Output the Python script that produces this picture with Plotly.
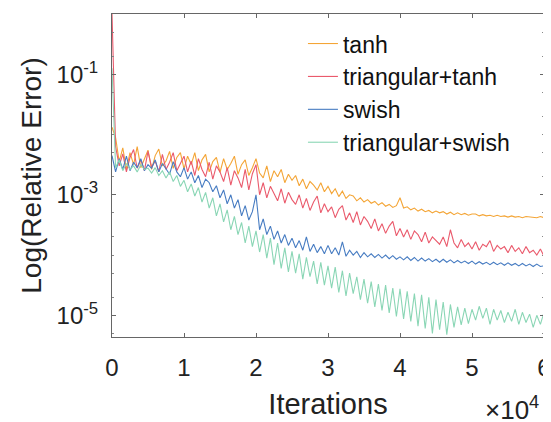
import plotly.graph_objects as go

iterations = list(range(0, 60001, 500))

tanh_log10 = [
    -1.88, -2.05, -2.45, -2.22, -2.58, -2.30, -2.50, -2.20, -2.55, -2.40, -2.26,
    -2.58, -2.35, -2.24, -2.52, -2.44, -2.28, -2.56, -2.38, -2.30, -2.57,
    -2.36, -2.50, -2.30, -2.60, -2.42, -2.33, -2.62, -2.45, -2.38, -2.63,
    -2.40, -2.58, -2.48, -2.36, -2.66, -2.50, -2.42, -2.68, -2.55, -2.40,
    -2.64, -2.72, -2.52, -2.78, -2.60, -2.70, -2.58, -2.80, -2.66, -2.76,
    -2.68, -2.85, -2.74, -2.90, -2.78, -2.84, -2.92, -2.80, -2.95, -2.86,
    -2.98, -2.90, -3.03, -2.94, -3.06, -3.00, -3.02, -3.10, -3.05, -3.12,
    -3.08, -3.14, -3.11, -3.17, -3.13, -3.19, -3.16, -3.21, -3.18, -3.05,
    -3.22, -3.20, -3.25, -3.22, -3.27, -3.24, -3.28, -3.26, -3.30, -3.27,
    -3.30, -3.28, -3.32, -3.29, -3.33, -3.30, -3.33, -3.31, -3.34, -3.32,
    -3.32, -3.35, -3.33, -3.35, -3.34, -3.36, -3.34, -3.36, -3.35, -3.37,
    -3.35, -3.37, -3.36, -3.38, -3.36, -3.37, -3.37, -3.38, -3.36, -3.38,
]

tri_tanh_log10 = [
    0.00, -2.20, -2.52, -2.32, -2.62, -2.38, -2.25, -2.56, -2.42, -2.60, -2.28,
    -2.54, -2.44, -2.62, -2.33, -2.58, -2.46, -2.30, -2.60, -2.48, -2.36,
    -2.62, -2.44, -2.68, -2.40, -2.58, -2.70, -2.46, -2.74, -2.52, -2.62,
    -2.78, -2.55, -2.84, -2.60, -2.72, -2.88, -2.58, -2.92, -2.65, -2.50,
    -3.00, -2.80, -3.05, -2.86, -2.98, -3.10, -2.90, -3.14, -2.96, -3.08,
    -3.16, -3.00, -3.22, -3.06, -3.26, -3.12, -3.02, -3.30, -3.15, -3.28,
    -3.20, -3.38, -3.24, -3.18, -3.42, -3.30, -3.46, -3.28, -3.50, -3.36,
    -3.44, -3.56, -3.40, -3.60, -3.48, -3.64, -3.52, -3.44, -3.68, -3.56,
    -3.70, -3.58, -3.74, -3.60, -3.66, -3.78, -3.62, -3.80, -3.70, -3.76,
    -3.82, -3.70, -3.86, -3.58, -3.80, -3.88, -3.74, -3.86, -3.80, -3.90,
    -3.78, -3.92, -3.82, -3.86, -3.76, -3.94, -3.84, -3.90, -3.86, -3.96,
    -3.84, -3.94, -3.88, -3.98, -3.86, -3.96, -3.92, -4.00, -3.90, -4.02,
]

swish_log10 = [
    -2.35, -2.62, -2.40, -2.58, -2.36, -2.60, -2.46, -2.55, -2.40, -2.60, -2.50,
    -2.56, -2.42, -2.62, -2.48, -2.58, -2.66, -2.45, -2.62, -2.70, -2.55,
    -2.74, -2.62, -2.80, -2.68, -2.88, -2.74, -2.80, -2.95, -2.85, -3.05,
    -2.92, -3.15, -3.00, -3.22, -3.08, -3.35, -3.18, -3.42, -3.28, -3.00,
    -3.58, -3.40, -3.66, -3.52, -3.74, -3.60, -3.80, -3.66, -3.84, -3.72,
    -3.88, -3.76, -3.92, -3.70, -3.94, -3.82, -3.96, -3.86, -3.98, -3.84,
    -3.98, -3.88, -4.00, -3.78, -4.02, -3.92, -4.00, -3.94, -4.04, -3.96,
    -4.03, -3.98, -4.04, -3.99, -4.05, -4.00, -4.06, -4.01, -4.07, -4.03,
    -4.08, -4.03, -4.09, -4.04, -4.10, -4.05, -4.10, -4.06, -4.11, -4.07,
    -4.12, -4.07, -4.12, -4.08, -4.13, -4.09, -4.13, -4.10, -4.14, -4.10,
    -4.15, -4.11, -4.15, -4.12, -4.16, -4.12, -4.16, -4.13, -4.17, -4.13,
    -4.17, -4.14, -4.18, -4.14, -4.18, -4.15, -4.19, -4.15, -4.19, -4.18,
]

tri_swish_log10 = [
    -0.90, -2.55, -2.42, -2.60, -2.48, -2.58, -2.52, -2.62, -2.50, -2.58, -2.56,
    -2.64, -2.55, -2.68, -2.60, -2.72, -2.62, -2.78, -2.68, -2.86, -2.76,
    -2.95, -2.82, -3.02, -2.88, -3.12, -2.96, -3.22, -3.05, -3.35, -3.15,
    -3.45, -3.25, -3.58, -3.36, -3.66, -3.46, -3.80, -3.52, -3.86, -3.60,
    -3.95, -3.66, -4.05, -3.72, -4.16, -3.80, -4.22, -3.88, -4.28, -3.94,
    -4.30, -3.98, -4.40, -4.04, -4.36, -4.10, -4.48, -4.12, -4.50, -4.18,
    -4.55, -4.20, -4.62, -4.26, -4.68, -4.30, -4.64, -4.36, -4.74, -4.40,
    -4.80, -4.44, -4.86, -4.48, -4.92, -4.50, -4.96, -4.55, -5.02, -4.56,
    -5.06, -4.60, -5.10, -4.64, -5.18, -4.66, -5.22, -4.70, -5.30, -4.74,
    -5.24, -4.78, -5.32, -4.82, -5.20, -4.86, -5.16, -4.88, -5.14, -4.90,
    -5.08, -4.85, -5.05, -4.88, -5.15, -4.90, -5.08, -4.92, -5.12, -4.95,
    -5.10, -4.90, -5.15, -4.95, -5.12, -4.98, -5.20, -5.00, -5.15, -4.95,
]

series_names = ["tanh", "triangular+tanh", "swish", "triangular+swish"]
series_logs = [tanh_log10, tri_tanh_log10, swish_log10, tri_swish_log10]
series_colors = ["#F4A536", "#EA5A6C", "#477CC2", "#8AD6B5"]

x_tick_vals = [0, 10000, 20000, 30000, 40000, 50000, 60000]
x_tick_text = ["0", "1", "2", "3", "4", "5", "6"]
y_tick_vals = [1e-5, 1e-3, 1e-1]
y_tick_text = ["10<sup>-5</sup>", "10<sup>-3</sup>", "10<sup>-1</sup>"]

fig = go.Figure()
for name, logs, color in zip(series_names, series_logs, series_colors):
    fig.add_trace(go.Scatter(
        x=iterations, y=[10 ** v for v in logs], mode="lines", name=name,
        line=dict(color=color, width=1.1),
    ))

# The page body has an 8px default margin, so the figure is sized to fit.
font_family = "Liberation Sans, Arial, sans-serif"
fig.update_layout(
    width=543, height=414,
    margin=dict(l=104, r=7, t=6, b=85, autoexpand=False),
    paper_bgcolor="white", plot_bgcolor="white",
    font=dict(family=font_family, color="#222222"),
    showlegend=True,
    legend=dict(x=0.442, y=0.975, xanchor="left", yanchor="top",
                bgcolor="rgba(0,0,0,0)", font=dict(size=23, color="#111111"),
                tracegroupgap=0),
    xaxis=dict(range=[0, 60000], tickvals=x_tick_vals, ticktext=x_tick_text,
               automargin=False,
               showgrid=False, zeroline=False, showline=True, mirror="ticks",
               linecolor="#666666", linewidth=1, ticks="inside", ticklen=4,
               tickcolor="#666666", tickfont=dict(size=24),
               ticklabelstandoff=9, ticklabeloverflow="allow",
               title=dict(text="Iterations", font=dict(size=29), standoff=13)),
    yaxis=dict(type="log", range=[-5.36, 0.0], tickvals=y_tick_vals,
               ticktext=y_tick_text, showgrid=False, zeroline=False,
               automargin=False,
               showline=True, mirror="ticks", linecolor="#666666", linewidth=1,
               ticks="inside", ticklen=4, tickcolor="#666666",
               tickfont=dict(size=24), ticklabelstandoff=8,
               ticklabeloverflow="allow",
               minor=dict(ticks="inside", ticklen=2, tickcolor="#888888", showgrid=False),
               title=dict(text="Log(Relative Error)", font=dict(size=28), standoff=6)),
    annotations=[dict(text="\u00d710<sup>4</sup>", xref="paper", yref="paper",
                      x=1.0, y=-0.22, xanchor="right", yanchor="middle",
                      xshift=-3, showarrow=False,
                      font=dict(size=26, color="#222222"))],
)

fig.write_html("out.html")
